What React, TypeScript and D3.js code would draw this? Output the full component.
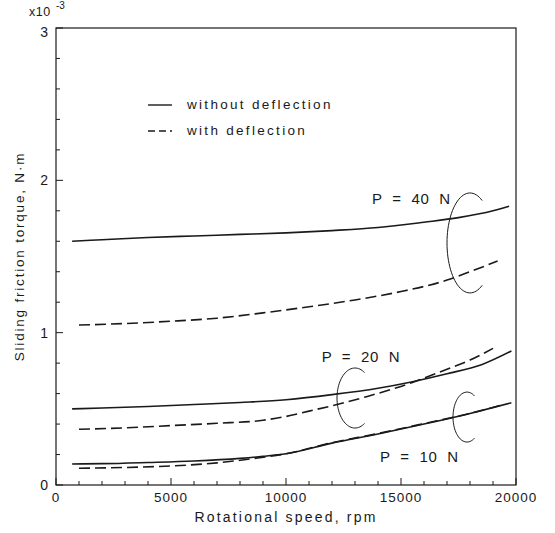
import React from "react";
import * as d3 from "d3";

// ---- data (rpm vs sliding friction torque, x10^-3 N·m) ----
const rpm40Solid = [700, 2000, 4000, 6000, 8000, 10000, 12000, 14000, 16000, 17500, 19000, 19700];
const tq40Solid = [1.6, 1.61, 1.625, 1.635, 1.645, 1.655, 1.67, 1.69, 1.725, 1.755, 1.8, 1.83];

const rpm40Dash = [1000, 3000, 5000, 7000, 9000, 11000, 13000, 15000, 17000, 18000, 19200];
const tq40Dash = [1.05, 1.06, 1.075, 1.095, 1.13, 1.17, 1.215, 1.27, 1.345, 1.4, 1.47];

const rpm20Solid = [700, 2000, 4000, 6000, 8000, 10000, 12000, 14000, 15500, 17000, 18500, 19800];
const tq20Solid = [0.5, 0.505, 0.515, 0.528, 0.542, 0.56, 0.593, 0.635, 0.678, 0.73, 0.79, 0.88];

const rpm20Dash = [1000, 3000, 5000, 7000, 9000, 10000, 11000, 12000, 13500, 15400, 17000, 18000, 19000];
const tq20Dash = [0.366, 0.375, 0.39, 0.405, 0.425, 0.45, 0.485, 0.52, 0.58, 0.668, 0.76, 0.82, 0.897];

const rpm10Solid = [700, 2000, 4000, 6000, 8000, 9000, 10000, 12000, 14000, 16000, 18000, 19800];
const tq10Solid = [0.138, 0.14, 0.148, 0.158, 0.175, 0.188, 0.205, 0.275, 0.335, 0.4, 0.47, 0.54];

const rpm10Dash = [1000, 3000, 5000, 7000, 8500, 10000, 12000, 14000, 16000, 18000, 19500];
const tq10Dash = [0.11, 0.115, 0.125, 0.145, 0.172, 0.205, 0.278, 0.338, 0.403, 0.47, 0.53];

const xTickLabels = [0, 5000, 10000, 15000, 20000];
const yTickLabels = [0, 1, 2, 3];
const legendLabels = ["without deflection", "with deflection"];

// annotation anchors (data units)
const loadLabels = ["P  =  40  N", "P  =  20  N", "P  =  10  N"];
const loadLabelRpm = [13740, 11550, 14090];
const loadLabelTq = [1.845, 0.81, 0.153];
const bracketRpm = [18000, 13000, 17870];
const bracketTq = [1.589, 0.571, 0.446];
const bracketRx = [1000, 783, 609];
const bracketRy = [0.328, 0.197, 0.164];

const W = 555;
const H = 533;
const L = 56, R = 516, T = 28, B = 485;

export default function App() {
  const x = d3.scaleLinear().domain([0, 20000]).range([L, R]);
  const y = d3.scaleLinear().domain([0, 3]).range([B, T]);

  const line = d3
    .line<[number, number]>()
    .x((d) => x(d[0]))
    .y((d) => y(d[1]))
    .curve(d3.curveMonotoneX);

  const series = [
    { r: rpm40Solid, v: tq40Solid, dash: false },
    { r: rpm40Dash, v: tq40Dash, dash: true },
    { r: rpm20Solid, v: tq20Solid, dash: false },
    { r: rpm20Dash, v: tq20Dash, dash: true },
    { r: rpm10Solid, v: tq10Solid, dash: false },
    { r: rpm10Dash, v: tq10Dash, dash: true },
  ];

  const minorX = d3.range(0, 20001, 1000);
  const minorY = d3.range(0, 3.001, 0.2);

  const font = "'Liberation Sans', Arial, sans-serif";
  const ink = "#1a1a1a";

  const arcLine = d3
    .line<[number, number]>()
    .x((d) => d[0])
    .y((d) => d[1]);

  const brackets = bracketRpm.map((br, i) => {
    const cx = x(br);
    const cy = y(bracketTq[i]);
    const rx = x(bracketRx[i]) - x(0);
    const ry = y(0) - y(bracketRy[i]);
    const a0 = (-58 * Math.PI) / 180;
    const a1 = (-302 * Math.PI) / 180;
    const pts: [number, number][] = d3.range(0, 61).map((k) => {
      const t = a0 + ((a1 - a0) * k) / 60;
      return [cx + rx * Math.cos(t), cy + ry * Math.sin(t)];
    });
    return arcLine(pts) || "";
  });

  return (
    <svg width={W} height={H} style={{ display: "block", position: "absolute", left: 0, top: 0 }}>
      <rect x={0} y={0} width={W} height={H} fill="#fff" />
      {/* frame */}
      <rect x={L} y={T} width={R - L} height={B - T} fill="none" stroke={ink} strokeWidth={1.2} />
      {/* x ticks */}
      {minorX.map((t) => (
        <line
          key={"xt" + t}
          x1={x(t)}
          x2={x(t)}
          y1={B}
          y2={B - (t % 5000 === 0 ? 7 : 4)}
          stroke={ink}
          strokeWidth={1}
        />
      ))}
      {/* y ticks */}
      {minorY.map((t, i) => (
        <line
          key={"yt" + i}
          x1={L}
          x2={L + (i % 5 === 0 ? 7 : 4)}
          y1={y(t)}
          y2={y(t)}
          stroke={ink}
          strokeWidth={1}
        />
      ))}
      {/* x tick labels */}
      {xTickLabels.map((t) => (
        <text
          key={"xl" + t}
          x={x(t)}
          y={B + 17}
          textAnchor="middle"
          fontFamily={font}
          fontSize={13.5}
          letterSpacing={1}
          fill={ink}
        >
          {t}
        </text>
      ))}
      {/* y tick labels */}
      {yTickLabels.map((t) => (
        <text
          key={"yl" + t}
          x={L - 8}
          y={y(t) + (t === 3 ? 9 : 5)}
          textAnchor="end"
          fontFamily={font}
          fontSize={14}
          fill={ink}
        >
          {t}
        </text>
      ))}
      {/* exponent */}
      <text x={29} y={16} fontFamily={font} fontSize={12.5} letterSpacing={0.5} fill={ink}>
        x10
      </text>
      <text x={56} y={9} fontFamily={font} fontSize={10} fill={ink}>
        -3
      </text>
      {/* axis titles */}
      <text
        x={(L + R) / 2}
        y={B + 37}
        textAnchor="middle"
        fontFamily={font}
        fontSize={14}
        letterSpacing={2.2}
        fill={ink}
      >
        Rotational speed, rpm
      </text>
      <text
        transform={`translate(24, ${(T + B) / 2}) rotate(-90)`}
        textAnchor="middle"
        fontFamily={font}
        fontSize={13.5}
        letterSpacing={1.8}
        fill={ink}
      >
        Sliding friction torque, N·m
      </text>
      {/* curves */}
      {series.map((s, i) => (
        <path
          key={"s" + i}
          d={line(s.r.map((r, k) => [r, s.v[k]] as [number, number])) || ""}
          fill="none"
          stroke={ink}
          strokeWidth={1.6}
          strokeDasharray={s.dash ? "11,5" : undefined}
        />
      ))}
      {/* brackets */}
      {brackets.map((d, i) => (
        <path key={"b" + i} d={d} fill="none" stroke={ink} strokeWidth={1} />
      ))}
      {/* load labels */}
      {loadLabels.map((lab, i) => (
        <text
          key={"ll" + i}
          x={x(loadLabelRpm[i])}
          y={y(loadLabelTq[i])}
          fontFamily={font}
          fontSize={15}
          letterSpacing={0.7}
          fill={ink}
          style={{ whiteSpace: "pre" }}
        >
          {lab}
        </text>
      ))}
      {/* legend */}
      {legendLabels.map((lab, i) => (
        <g key={"lg" + i}>
          <line
            x1={148}
            x2={172}
            y1={105 + i * 26}
            y2={105 + i * 26}
            stroke={ink}
            strokeWidth={1.4}
            strokeDasharray={i === 1 ? "7,4" : undefined}
          />
          <text
            x={187}
            y={109 + i * 26}
            fontFamily={font}
            fontSize={13.5}
            letterSpacing={2.3}
            fill={ink}
          >
            {lab}
          </text>
        </g>
      ))}
    </svg>
  );
}
